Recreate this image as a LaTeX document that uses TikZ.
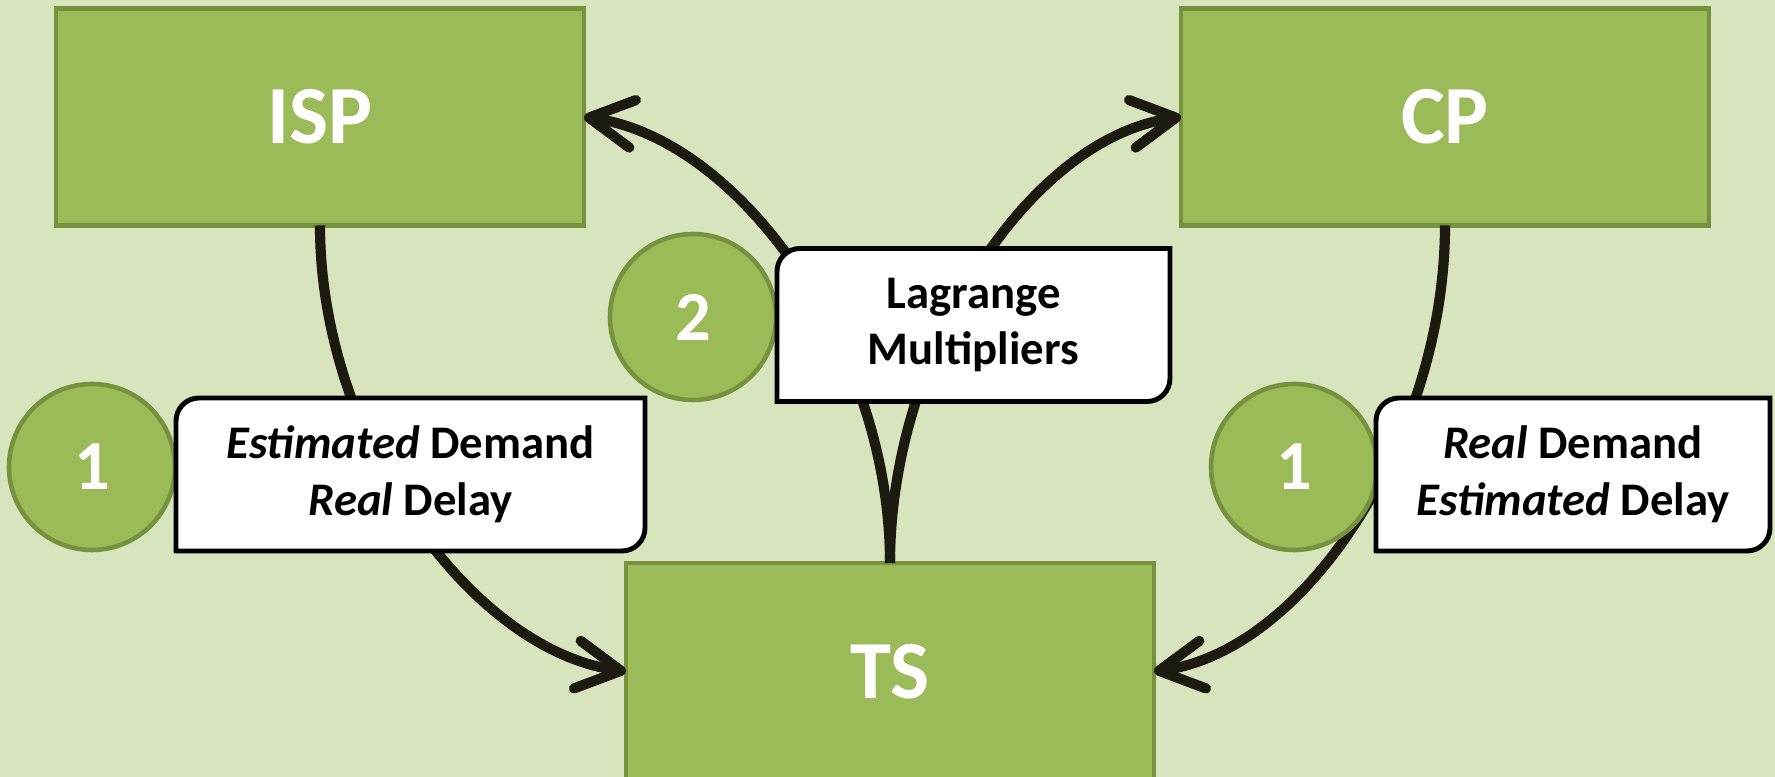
\documentclass[tikz,border=0pt]{standalone}
\usepackage{fontspec}
\setmainfont{Carlito}
\usetikzlibrary{arrows.meta}
\definecolor{bgcol}{RGB}{215,228,189}
\definecolor{boxcol}{RGB}{155,187,89}
\definecolor{edgecol}{RGB}{118,146,60}
\definecolor{flowcol}{RGB}{29,27,17}

\begin{document}
\begin{tikzpicture}[scale=1.0,
   agent/.style={rectangle,fill=boxcol,draw=edgecol,line width=1.3pt,minimum width=5.28cm,minimum height=2.17cm,
     inner sep=0pt,outer sep=0pt,text=white,font=\fontsize{23.5}{28}\selectfont\bfseries},
   num/.style={circle,fill=boxcol,draw=edgecol,line width=1.3pt,minimum size=1.66cm,inner sep=0pt,
     text=white,font=\fontsize{20}{24}\selectfont\bfseries},
   note/.style={rectangle,minimum height=1.53cm,inner sep=0pt,outer sep=0pt},
   notetext/.style={align=center,font=\fontsize{13.3}{16.1}\selectfont\bfseries},
   flow/.style={draw=flowcol,line width=2.9pt,-{Straight Barb[length=4.4mm,width=4.8mm,round]}}]
  \useasboundingbox (0,0) rectangle (17.75,7.77);
  \clip (0,0) rectangle (17.75,7.77);
  \fill[bgcol] (0,0) rectangle (17.75,7.77);
  \node[agent] (isp) at (3.20,6.60) {ISP};
  \node[agent] (cp) at (14.45,6.60) {CP};
  \node[agent] (ts) at (8.90,1.055) {TS};
  % demand/delay go down to TS, multipliers come back up
  \draw[flow] (isp.south) to[out=-90,in=172,in looseness=0.75] (ts.west);
  \draw[flow] (cp.south) to[out=-90,in=8,in looseness=0.75] (ts.east);
  \draw[flow] (ts.north) to[out=90,in=-8,in looseness=0.75] (isp.east);
  \draw[flow] (ts.north) to[out=90,in=188,in looseness=0.75] (cp.west);
  \node[num] (numL) at (0.92,3.10) {1};
  \node[num] (numM) at (6.93,4.60) {2};
  \node[num] (numR) at (12.94,3.10) {1};
  \node[note,minimum width=4.69cm] (lblL) at (4.105,3.025) {};
  \node[note,minimum width=3.93cm] (lblM) at (9.735,4.52) {};
  \node[note,minimum width=3.94cm] (lblR) at (15.73,3.025) {};
  % white tags, rounded only at top left and bottom right
  \foreach \n in {lblL,lblM,lblR}{
    \draw[line width=1.4pt,fill=white] (\n.south west) -- ([yshift=-0.23cm]\n.north west)
      arc[start angle=180,end angle=90,radius=0.23cm] -- (\n.north east)
      -- ([yshift=0.23cm]\n.south east) arc[start angle=0,end angle=-90,radius=0.23cm] -- cycle;}
  \node[notetext] at (lblL) {\textit{Estimated} Demand\\\textit{Real} Delay};
  \node[notetext] at (lblM) {Lagrange\\Multipliers};
  \node[notetext] at (lblR) {\textit{Real} Demand\\\textit{Estimated} Delay};
\end{tikzpicture}
\end{document}
